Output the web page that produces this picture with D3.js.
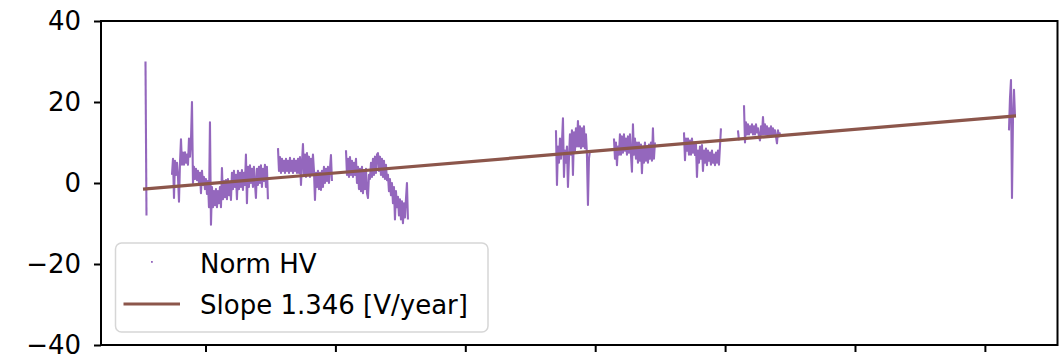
<!DOCTYPE html>
<html>
<head>
<meta charset="utf-8">
<script src="https://cdn.jsdelivr.net/npm/d3@7"></script>
<style>
  body { margin: 0; background: #fff; }
  svg { display: block; }
</style>
</head>
<body>
<div id="graph"></div>
<script>
// HV readings were taken roughly every 5.6 days, grouped in runs
const sampleDays = 5.62;

// first reading of every run (decimal year)
const runStarts = [2009.076, 2009.484, 2011.116, 2012.163, 2015.396, 2016.289, 2017.367, 2018.198, 2018.291, 2022.371];

// normalised HV per run [V]
const run0 = [30, -8];
const run1 = [2, 6, -3.7, 5.5, 2, 5, 1.5, -4.6, 5, 10.8,
  4.5, 7.5, 4.5, 7.6, 5, 7, 4.5, 11, 6.5, 10.5,
  20, 0, 4, 1, 3.5, 0.7, 3, 0, 2.5, -2.5,
  3, -0.5, 1.5, -1.5, 1, -2.7, 0.5, -6, 15, -10.3,
  -1, -6, -2, -5.5, -1.5, -6, -2, -5, -1, -6,
  3.7, -4, 0.5, -3.5, 0.7, -4, 1, -3, 0, -4.2,
  2.5, -1.5, 3, -1, 2, -4, 3, -1.5, 2.5, -1,
  3.2, -1.7, 2.5, -0.5, 7, -5, 4, -1, 4.4, 0,
  3.5, -1, 4, 0, -3.7, 3.5, -0.5, 4, 0, 4.4,
  -1, 3.5, 0.5, 4.5, -1, 4, -4];
const run2 = [8.6, 3, 6.4, 2.5, 6, 3, 5.5, 2.5, 6, 3,
  5.5, 2.5, 6.2, 3, 5.5, 2.5, 6, 3, 5.5, 2.5,
  6, 2.5, 6.4, -0.5, 5, 9.6, 2, 7, 1.5, 7.4,
  2, 6.5, 1.5, 6, 2, 7, 3, -4.2, 2.5, -1,
  3, -1.5, 2.5, -1.7, 3, -1, 4, 0, 3.5, 0.5,
  4, 0, 3.5, 6.9, 0.5];
const run3 = [8.1, 2, 6, 1.5, 6.4, 2, 5.5, 1.5, 5, 2,
  6, 0, 4, -1.5, 3.5, -2, 4, -2.5, 3, -1.5,
  3.5, -2.5, -3.7, 2, 1, 5, 1.5, 6, 2, 6.5,
  2.5, 7, 7.4, 3, 6.5, 2, 6, 1.5, 5.5, 1,
  4.5, 0.7, 2, -2, 1, -3, 0, -5, -1, -9,
  -2, -6, -3.4, -8, -4, -9, -4.5, -9.9, -5, -8.5,
  -4, 0, -9];
const run4 = [13, -0.5, 9, 5, 11, 6, 10, 16, 1.5, 8,
  5, 9, -1, 6, 12, 7, 13, 2, 12.5, 8,
  13.5, 9, 15.3, 9, 14, 8.6, 13.5, 9, 14, 8.6,
  12, 7, -5.4, 6, 8];
const run5 = [11, 6, 10, 4.4, 9, 7, 12, 7, 11.5, 7.5,
  12, 8, 11, 7, 11.5, 7.5, 12, 7, 2.8, 14.5,
  7, 11, 6, 10, 5, 10, 5.5, 9.5, 2.4, 9,
  5, 10, 5.5, 9, 5, 9.5, 6, 10, 5.5, 13.5,
  6, 10];
const run6 = [12.5, 5.6, 11, 8, 11, 7, 10.5, 7, 11, 7.5,
  10, 6.9, 9.5, 1.5, 8, 5, 9, 6, 9.4, 3,
  8, 5, 8.5, 4.4, 8, 5.5, 7.5, 4.5, 8, 5,
  7, 4.4, 7.5, 5, 8, 4.5, 9, 13.5];
const run7 = [13, 10.5];
const run8 = [19.2, 10, 15, 12, 14.5, 12, 14, 12.5, 14.5, 12,
  14, 12, 14.5, 12.5, 13.5, 11.5, 10.5, 14, 12, 16.3,
  12, 14.5, 12, 14, 11.5, 13.5, 12, 14, 11.8, 13.5,
  12, 13, 11.5, 9.8, 13, 11.5, 12.5];
const run9 = [13, 21, 25.4, -3.7, 16, 23, 16.5];
const runValues = [run0, run1, run2, run3, run4, run5, run6, run7, run8, run9];

// linear fit
const slope = 1.346;
const fitYears = [2009.038, 2022.479];
const fitValues = [-1.5, 16.59];

const xDomain = [2008.391, 2023.118];
const xTicks = [2010, 2012, 2014, 2016, 2018, 2020, 2022];
const yTicks = [-40, -20, 0, 20, 40];
const legendLabels = ["Norm HV", `Slope ${slope.toFixed(3)} [V/year]`];

const hvColor = "#9467bd";
const fitColor = "#8c564b";
const font = "DejaVu Sans, sans-serif";

const margin = { top: 21, right: 2.5, bottom: 12, left: 101 };
const width = 1060 - margin.left - margin.right;
const height = 357 - margin.top - margin.bottom;

const xScale = d3.scaleLinear().domain(xDomain).range([0, width]);
const yScale = d3.scaleLinear().domain([-40, 40]).range([height, 0]);

const svg = d3.select("#graph")
  .append("svg")
  .attr("width", 1060)
  .attr("height", 357)
  .append("g")
  .attr("transform", `translate(${margin.left},${margin.top})`);

// build the readings from runs
const stepYears = sampleDays / 365.25;
const runs = runValues.map((vals, r) => vals.map((v, i) => ({ t: runStarts[r] + i * stepYears, v })));

const line = d3.line()
  .x(d => xScale(d.t))
  .y(d => yScale(d.v));

svg.selectAll("path.hv")
  .data(runs)
  .join("path")
  .attr("class", "hv")
  .attr("fill", "none")
  .attr("stroke", hvColor)
  .attr("stroke-width", 2.1)
  .attr("stroke-linejoin", "round")
  .attr("d", line);

const fit = fitYears.map((t, i) => ({ t, v: fitValues[i] }));
svg.append("path")
  .datum(fit)
  .attr("fill", "none")
  .attr("stroke", fitColor)
  .attr("stroke-width", 3.2)
  .attr("d", line);

// axes
const yAxis = svg.append("g")
  .call(d3.axisLeft(yScale).tickValues(yTicks).tickSize(7).tickPadding(13));
yAxis.select(".domain").remove();
yAxis.selectAll("line").attr("stroke", "#000").attr("stroke-width", 2);
yAxis.selectAll("text")
  .attr("font-family", font)
  .attr("font-size", 26)
  .attr("fill", "#000")
  .attr("dy", "0.33em");

const xAxis = svg.append("g")
  .attr("transform", `translate(0,${height})`)
  .call(d3.axisBottom(xScale).tickValues(xTicks).tickSize(7).tickFormat(""));
xAxis.select(".domain").remove();
xAxis.selectAll("line").attr("stroke", "#000").attr("stroke-width", 2);

// frame
svg.append("rect")
  .attr("width", width)
  .attr("height", height)
  .attr("fill", "none")
  .attr("stroke", "#000")
  .attr("stroke-width", 2);

// legend
const legend = svg.append("g")
  .attr("transform", `translate(${115.5 - margin.left},${243 - margin.top})`);

legend.append("rect")
  .attr("width", 372.5)
  .attr("height", 89)
  .attr("rx", 6)
  .attr("fill", "#fff")
  .attr("fill-opacity", 0.8)
  .attr("stroke", "#d6d6d6")
  .attr("stroke-width", 1.5);

legend.append("rect")
  .attr("x", 35.5)
  .attr("y", 18)
  .attr("width", 1.8)
  .attr("height", 1.8)
  .attr("fill", hvColor);

legend.append("line")
  .attr("x1", 8)
  .attr("x2", 64.5)
  .attr("y1", 61)
  .attr("y2", 61)
  .attr("stroke", fitColor)
  .attr("stroke-width", 3.2);

legend.selectAll("text")
  .data(legendLabels)
  .join("text")
  .attr("x", 84.5)
  .attr("y", (d, i) => 29.5 + i * 41)
  .attr("font-family", font)
  .attr("font-size", 26)
  .attr("fill", "#000")
  .text(d => d);
</script>
</body>
</html>
